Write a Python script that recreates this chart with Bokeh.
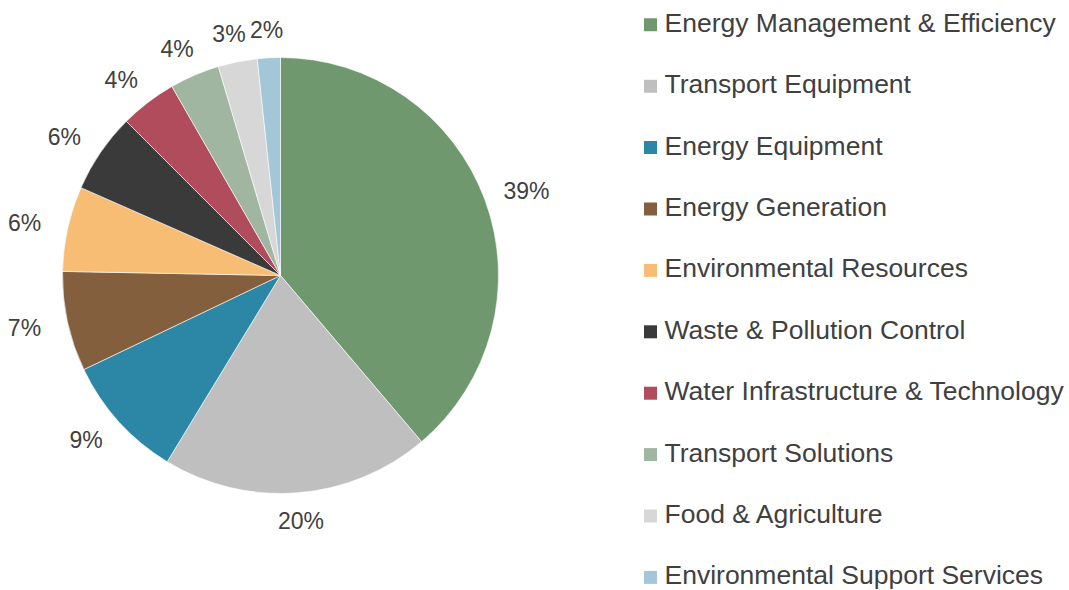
import math
from bokeh.plotting import figure
from bokeh.models import Range1d, ColumnDataSource
from bokeh.core.properties import value
from bokeh.embed import file_html
from bokeh.resources import INLINE

categories = ["Energy Management & Efficiency", "Transport Equipment", "Energy Equipment",
              "Energy Generation", "Environmental Resources", "Waste & Pollution Control",
              "Water Infrastructure & Technology", "Transport Solutions", "Food & Agriculture",
              "Environmental Support Services"]
shares = [38.8, 19.9, 9.2, 7.4, 6.3, 5.9, 4.2, 3.7, 2.9, 1.7]
colors = ["#70986f", "#bfbfbf", "#2b87a5", "#845f3e", "#f8bd75", "#3a3a3a",
          "#b04c5b", "#a0b6a0", "#d7d7d7", "#a3c6d8"]

W, H = 1069, 590
FONT = "Liberation Sans"
TXT = "#404040"

p = figure(width=W, height=H, output_backend="svg", toolbar_location=None,
           x_range=Range1d(0, W), y_range=Range1d(0, H), min_border=0)
p.axis.visible = False
p.grid.visible = False
p.outline_line_color = None
p.background_fill_color = "white"
p.border_fill_color = "white"

def fx(x):  # picture px -> plot x
    return x

def fy(y):  # picture px -> plot y
    return H - y

cx, cy, R = fx(280), fy(275), 218
total = sum(shares)
starts, ends, lx, ly, labels = [], [], [], [], []
cum = 0.0
for v in shares:
    a0 = cum / total
    cum += v
    a1 = cum / total
    starts.append(math.pi / 2 - a1 * 2 * math.pi)
    ends.append(math.pi / 2 - a0 * 2 * math.pi)
    mid = (a0 + a1) / 2 * 2 * math.pi
    dx, dy = math.sin(mid), math.cos(mid)
    rr = R + 16
    lx.append(cx + rr * dx + dx * 28)
    ly.append(cy + rr * dy + dy * 12)
    labels.append(f"{round(v / total * 100)}%")

src = ColumnDataSource(dict(start=starts, end=ends, color=colors, x=[cx] * len(shares),
                            y=[cy] * len(shares)))
p.wedge(x="x", y="y", radius=R, radius_units="screen", start_angle="start", end_angle="end",
        fill_color="color", line_color="white", line_width=0.6, source=src)

p.text(x=lx, y=ly, text=labels, text_font=value(FONT), text_font_size="23px",
       text_color=TXT, text_align="center", text_baseline="middle")

# legend
row0, step = fy(24.3), 61.4
ys = [row0 - i * step for i in range(len(categories))]
p.rect(x=[fx(650)] * len(categories), y=ys, width=13, height=13, width_units="screen",
       height_units="screen", fill_color=colors, line_color=None)
p.text(x=[fx(664)] * len(categories), y=[v + 2 for v in ys], text=categories,
       text_font=value(FONT), text_font_size="26.5px", text_color=TXT,
       text_align="left", text_baseline="middle")

open("out.html", "w").write(file_html(p, INLINE))
